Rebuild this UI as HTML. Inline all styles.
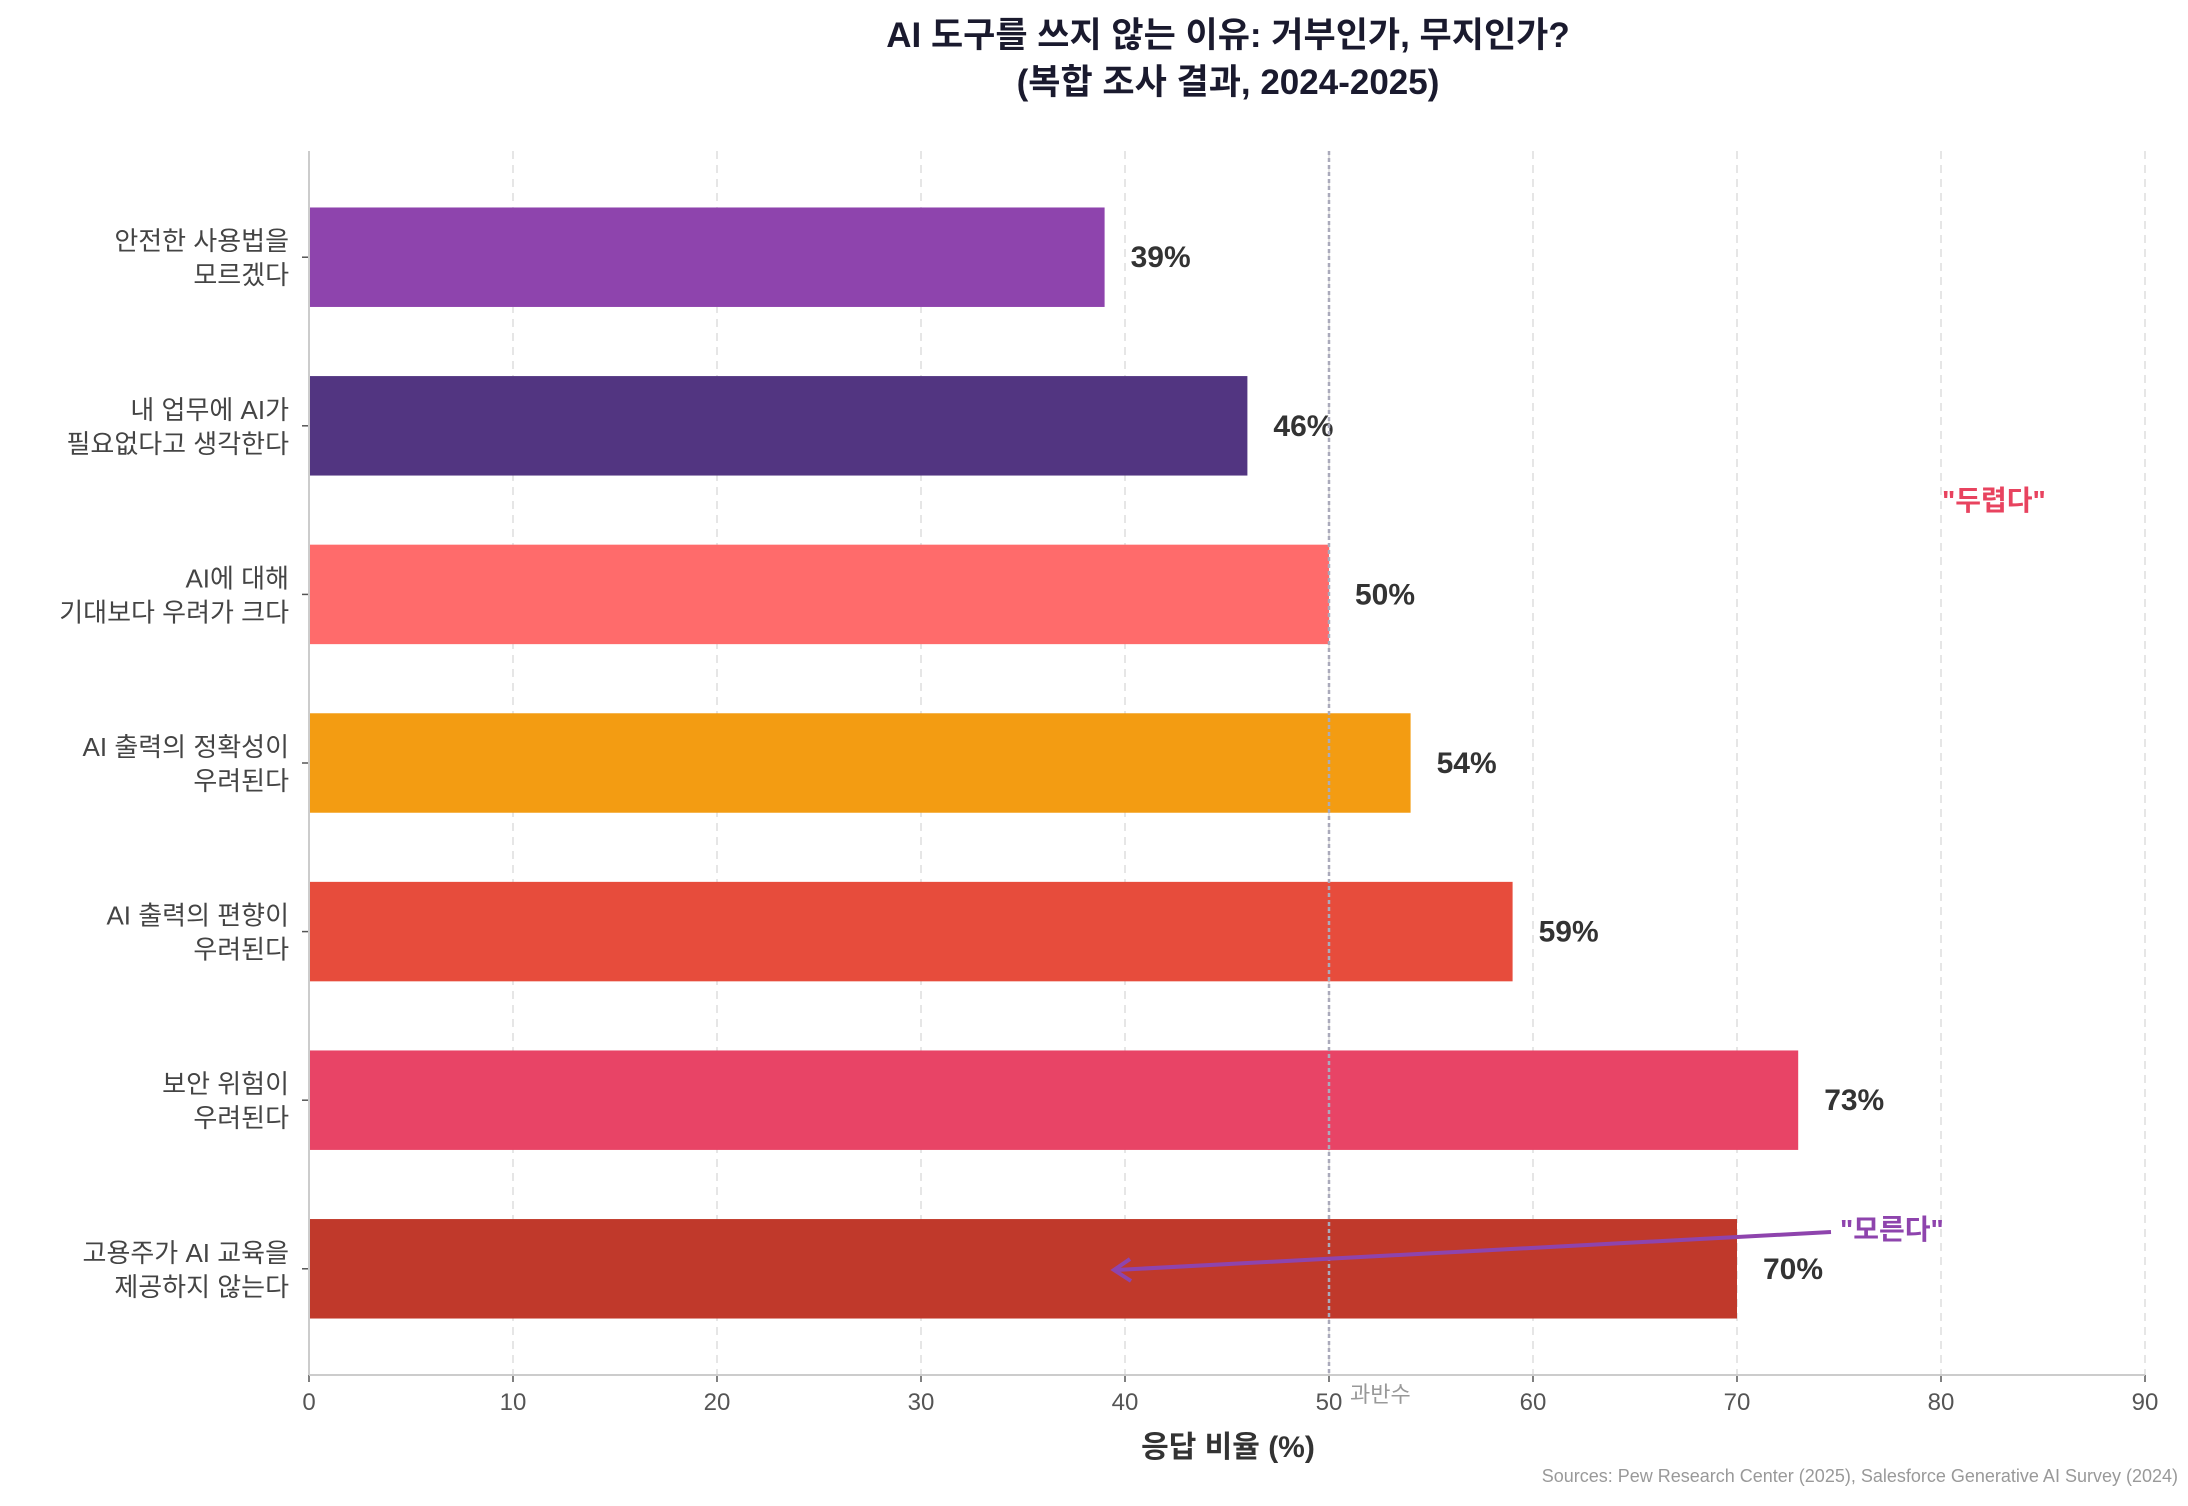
<!DOCTYPE html>
<html><head><meta charset="utf-8"><style>
body{margin:0;background:#fff}
svg text{font-family:"Liberation Sans","Noto Sans CJK KR",sans-serif}
</style></head><body>
<svg id="chart" width="2188" height="1501" viewBox="0 0 2188 1501" xmlns="http://www.w3.org/2000/svg">
<text x="1228" y="47" text-anchor="middle" font-size="35" font-weight="bold" fill="#1a1a2e">AI 도구를 쓰지 않는 이유: 거부인가, 무지인가?</text>
<text x="1228" y="94" text-anchor="middle" font-size="35" font-weight="bold" fill="#1a1a2e">(복합 조사 결과, 2024-2025)</text>
<g id="grid"></g><g id="bars"></g><g id="axes"></g>
<text x="1228" y="1457" text-anchor="middle" font-size="30" font-weight="bold" fill="#333">응답 비율 (%)</text>
<text x="2178" y="1482" text-anchor="end" font-size="18" fill="#999">Sources: Pew Research Center (2025), Salesforce Generative AI Survey (2024)</text>
<text x="1350" y="1402" font-size="22" fill="#999">과반수</text>
<text x="1942" y="510" font-size="28" font-weight="bold" fill="#e8435f">"두렵다"</text>
<text x="1840" y="1239" font-size="28" font-weight="bold" fill="#8e44ad">"모른다"</text>
<line x1="1831" y1="1232" x2="1116" y2="1270" stroke="#8e44ad" stroke-width="4"/>
<polyline points="1130,1259 1114,1270 1131,1281" fill="none" stroke="#8e44ad" stroke-width="4"/>
</svg>
<script>
const categories=[["안전한 사용법을","모르겠다"],["내 업무에 AI가","필요없다고 생각한다"],["AI에 대해","기대보다 우려가 크다"],["AI 출력의 정확성이","우려된다"],["AI 출력의 편향이","우려된다"],["보안 위험이","우려된다"],["고용주가 AI 교육을","제공하지 않는다"]];
const values=[39,46,50,54,59,73,70];
const colors=["#8e44ad","#523581","#ff6b6b","#f39c12","#e74c3c","#e84466","#c0392b"];
const xTicks=[0,10,20,30,40,50,60,70,80,90];
const NS="http://www.w3.org/2000/svg";
const X0=309,X1=2145,XMAX=90,YT=151,YB=1375,YMIN=-0.63,YMAX=6.63;
const xs=v=>X0+(X1-X0)*v/XMAX;
const ys=i=>YT+(YB-YT)*(i-YMIN)/(YMAX-YMIN);
const bh=(YB-YT)/(YMAX-YMIN)*0.59;
function mk(p,tag,attrs){const e=document.createElementNS(NS,tag);for(const k in attrs)e.setAttribute(k,attrs[k]);document.getElementById(p).appendChild(e);return e;}
xTicks.forEach(t=>{
  if(t>0){const g=mk('grid','line',{x1:xs(t),x2:xs(t),y1:YT,y2:YB,stroke:'#ddd','stroke-width':1.5,'stroke-dasharray':'8,6'});
  
  }
  const tk=mk('axes','line',{x1:xs(t),x2:xs(t),y1:YB,y2:YB+7,stroke:'#555','stroke-width':1.5});
  
  
  const tl=mk('axes','text',{x:xs(t),y:YB+35,'text-anchor':'middle','font-size':24,fill:'#555'});
  tl.textContent=t;
  
  
});
values.forEach((v,i)=>{
  const y=ys(i);
  const r=mk('bars','rect',{x:X0,y:y-bh/2,width:xs(v)-X0,height:bh,fill:colors[i]});
  
  
  const vl=mk('bars','text',{x:xs(v)+26,y:y+10,'font-size':30,'font-weight':'bold',fill:'#333'});
  vl.textContent=v+'%';
  
  
  const tk=mk('axes','line',{x1:X0-7,x2:X0,y1:y,y2:y,stroke:'#555','stroke-width':1.5});
  
  
  categories[i].forEach((s,j)=>{
    const t=mk('axes','text',{x:X0-20,y:y-7+j*34,'text-anchor':'end','font-size':26,fill:'#444'});
    t.textContent=s;
    
    
  });
});
const ml=mk('bars','line',{x1:xs(50),x2:xs(50),y1:YT,y2:YB,stroke:'#aab','stroke-width':2.5,'stroke-dasharray':'4,3'});


const ya=mk('axes','line',{x1:X0,x2:X0,y1:YT,y2:YB,stroke:'#ccc','stroke-width':2});


const xa=mk('axes','line',{x1:X0,x2:X1,y1:YB,y2:YB,stroke:'#ccc','stroke-width':2});


</script>
</body></html>
